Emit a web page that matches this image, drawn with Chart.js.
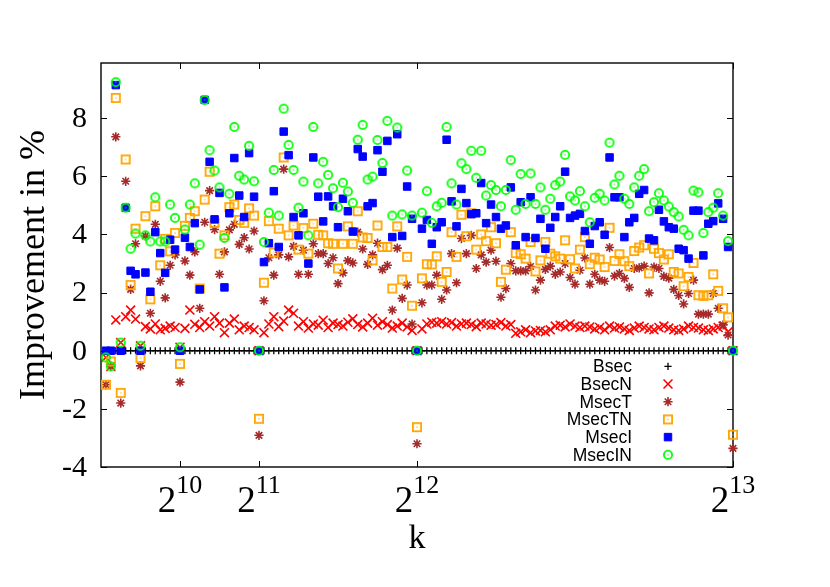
<!DOCTYPE html>
<html>
<head>
<meta charset="utf-8">
<script src="https://cdn.jsdelivr.net/npm/chart.js@4/dist/chart.umd.min.js"></script>
<style>
  html, body { margin: 0; padding: 0; background: #fff; }
  canvas { display: block; }
</style>
</head>
<body>
<canvas id="chart" width="830" height="587"></canvas>
<script>
// Data (START) --------------------------------------------------
// k values, multiples of 64
const kVals = [
    64, 128, 192, 256, 320, 384, 448, 512, 576, 640, 704, 768, 832, 896, 960, 1024,
    1088, 1152, 1216, 1280, 1344, 1408, 1472, 1536, 1600, 1664, 1728, 1792, 1856, 1920, 1984, 2048,
    2112, 2176, 2240, 2304, 2368, 2432, 2496, 2560, 2624, 2688, 2752, 2816, 2880, 2944, 3008, 3072,
    3136, 3200, 3264, 3328, 3392, 3456, 3520, 3584, 3648, 3712, 3776, 3840, 3904, 3968, 4032, 4096,
    4160, 4224, 4288, 4352, 4416, 4480, 4544, 4608, 4672, 4736, 4800, 4864, 4928, 4992, 5056, 5120,
    5184, 5248, 5312, 5376, 5440, 5504, 5568, 5632, 5696, 5760, 5824, 5888, 5952, 6016, 6080, 6144,
    6208, 6272, 6336, 6400, 6464, 6528, 6592, 6656, 6720, 6784, 6848, 6912, 6976, 7040, 7104, 7168,
    7232, 7296, 7360, 7424, 7488, 7552, 7616, 7680, 7744, 7808, 7872, 7936, 8000, 8064, 8128, 8192
];

// Improvement in % for each method
const bsec = [
    0, 0, 0, 0, 0, 0, 0, 0, 0, 0, 0, 0, 0, 0, 0, 0, 0, 0, 0, 0, 0, 0, 0, 0, 0, 0, 0, 0, 0, 0, 0, 0,
    0, 0, 0, 0, 0, 0, 0, 0, 0, 0, 0, 0, 0, 0, 0, 0, 0, 0, 0, 0, 0, 0, 0, 0, 0, 0, 0, 0, 0, 0, 0, 0,
    0, 0, 0, 0, 0, 0, 0, 0, 0, 0, 0, 0, 0, 0, 0, 0, 0, 0, 0, 0, 0, 0, 0, 0, 0, 0, 0, 0, 0, 0, 0, 0,
    0, 0, 0, 0, 0, 0, 0, 0, 0, 0, 0, 0, 0, 0, 0, 0, 0, 0, 0, 0, 0, 0, 0, 0, 0, 0, 0, 0, 0, 0, 0, 0
];
const bsecN = [
    -0.23, -0.54, 1.06, 0.28, 1.17, 1.4, 1.09, 0.17, 0.83, 0.75, 0.92, 0.72, 0.77, 0.85, 0.8, 0.12,
    0.77, 1.4, 0.91, 0.8, 1.0, 0.85, 1.17, 0.95, 0.62, 0.95, 1.09, 0.72, 0.85, 0.8, 0.72, 0,
    0.62, 0.92, 1.17, 0.83, 1.02, 1.4, 1.29, 0.85, 1.0, 0.78, 0.92, 0.88, 1.05, 0.8, 0.95, 0.9,
    0.85, 0.98, 1.1, 0.9, 0.82, 0.95, 1.12, 0.88, 1.0, 0.9, 0.78, 0.85, 0.95, 0.82, 0.7, 0,
    0.75, 0.92, 0.98, 0.95, 1.0, 0.92, 0.97, 0.85, 0.92, 0.95, 0.9, 0.83, 0.95, 0.92, 0.88, 0.9,
    0.97, 0.85, 0.9, 0.6, 0.65, 0.72, 0.62, 0.68, 0.7, 0.65, 0.72, 0.85, 0.88, 0.82, 0.92, 0.85,
    0.8, 0.85, 0.82, 0.75, 0.8, 0.72, 0.85, 0.78, 0.82, 0.75, 0.7, 0.78, 0.85, 0.8, 0.75, 0.72,
    0.8, 0.85, 0.78, 0.72, 0.7, 0.75, 0.85, 0.8, 0.78, 0.72, 0.7, 0.75, 0.8, 0.85, 0.65, 0
];
const msecT = [
    -1.17, -0.54, 7.36, -1.8, 5.83, 2.11, 3.68, -0.52, 3.95, 1.29, 4.35, 2.39, 1.82, 2.94, 3.3, -1.08,
    3.09, 2.6, 3.4, 1.46, 4.42, 5.51, 4.17, 2.63, 3.4, 4.16, 4.35, 3.66, 3.89, 3.5, 4.12, -2.91,
    1.72, 3.2, 2.6, 3.3, 6.25, 3.23, 3.59, 2.63, 3.46, 2.63, 3.68, 3.34, 3.34, 3.0, 3.2, 2.31,
    2.68, 3.1, 3.02, 4.08, 3.5, 2.97, 3.3, 3.7, 2.79, 2.94, 1.4, 3.53, 1.8, 2.26, 0.92, -3.2,
    1.65, 2.26, 2.26, 2.6, 1.77, 2.09, 3.34, 2.34, 3.86, 3.34, 3.97, 2.83, 3.3, 3.05, 3.46, 3.08,
    1.84, 2.14, 3.0, 2.75, 2.75, 2.75, 2.9, 2.09, 2.43, 2.8, 2.91, 2.63, 2.71, 3.0, 2.52, 2.29,
    2.77, 3.19, 2.29, 2.63, 2.43, 2.39, 3.55, 2.57, 2.66, 2.49, 2.18, 2.83, 2.85, 2.91, 1.99, 2.88,
    2.83, 2.56, 2.5, 2.11, 1.9, 1.61, 1.97, 2.43, 1.26, 1.26, 1.26, 1.97, 1.46, 0.89, 0.54, -3.36
];
const msecTN = [
    -1.17, -0.37, 8.7, -1.45, 6.58, 2.26, 4.2, -0.25, 4.63, 1.77, 4.97, 2.94, 3.85, 3.42, 4.05, -0.45,
    4.3, 4.57, 4.8, 2.14, 5.2, 6.16, 4.4, 3.34, 3.97, 4.94, 5.03, 4.5, 4.4, 4.9, 4.65, -2.34,
    2.34, 4.46, 3.38, 4.2, 6.65, 3.97, 4.31, 3.48, 4.22, 3.34, 4.37, 3.99, 3.97, 3.7, 3.68, 2.83,
    3.68, 4.28, 3.68, 4.8, 3.9, 3.88, 3.11, 4.31, 3.57, 3.57, 2.14, 4.28, 2.45, 3.23, 1.55, -2.63,
    2.49, 2.98, 2.97, 3.25, 2.37, 2.71, 4.08, 3.23, 4.68, 3.94, 4.73, 3.48, 4.0, 3.77, 4.25, 3.7,
    2.37, 2.79, 4.08, 3.36, 3.32, 3.17, 3.74, 2.73, 3.11, 3.74, 3.34, 3.25, 3.17, 3.8, 3.15, 2.83,
    3.48, 3.91, 2.98, 3.2, 3.14, 2.88, 4.23, 3.09, 3.32, 3.08, 2.91, 3.43, 3.55, 3.63, 2.66, 3.51,
    3.36, 3.14, 3.32, 2.71, 2.66, 2.22, 2.54, 3.02, 1.91, 1.89, 1.91, 2.63, 2.06, 1.46, 1.15, -2.89
];
const msecI = [
    0, 0, 9.14, 0, 4.92, 2.75, 2.63, 0, 2.69, 2.03, 4.08, 3.36, 2.68, 3.82, 3.48, 0,
    3.89, 3.57, 4.39, 2.11, 8.63, 6.5, 4.52, 5.43, 2.18, 4.73, 6.63, 5.34, 4.6, 6.8, 5.3, 0,
    3.05, 3.7, 5.49, 3.57, 7.54, 6.73, 4.6, 3.97, 4.73, 3.0, 6.65, 5.3, 4.45, 5.31, 4.97, 4.25,
    5.23, 4.8, 4.1, 6.94, 6.68, 4.97, 5.08, 6.9, 6.16, 7.22, 3.91, 7.45, 3.95, 5.65, 4.54, 0,
    4.2, 4.5, 3.68, 4.25, 4.42, 7.26, 5.14, 4.28, 5.57, 5.08, 4.7, 4.73, 5.77, 4.39, 5.03, 4.6,
    4.2, 4.31, 5.62, 3.63, 5.11, 3.91, 5.28, 3.88, 4.54, 3.51, 4.23, 4.6, 4.97, 6.16, 4.57, 4.65,
    4.71, 4.12, 3.68, 4.29, 4.42, 3.99, 6.65, 5.28, 5.28, 3.91, 4.42, 4.57, 5.4, 5.53, 3.86, 3.8,
    4.85, 4.45, 4.25, 4.2, 3.51, 3.46, 3.17, 4.82, 4.82, 3.28, 4.37, 4.46, 5.07, 4.54, 3.57, 0
];
const msecIN = [
    -0.23, -0.54, 9.24, 0.28, 4.92, 3.51, 4.03, 0.17, 3.97, 3.76, 5.28, 3.76, 3.76, 5.03, 4.57, 0.12,
    4.17, 5.03, 5.76, 3.65, 8.63, 6.9, 6.2, 5.62, 3.88, 5.4, 7.7, 6.02, 5.89, 7.05, 5.83, 0,
    3.74, 4.75, 6.22, 4.65, 8.33, 7.08, 6.22, 4.92, 5.82, 3.97, 7.7, 5.76, 6.5, 6.05, 5.59, 4.94,
    5.78, 5.48, 5.09, 7.26, 7.77, 5.89, 5.99, 7.25, 6.46, 7.91, 4.65, 7.68, 4.69, 6.2, 4.65, 0,
    4.75, 5.49, 4.4, 4.97, 5.09, 7.7, 5.76, 5.03, 6.45, 6.25, 6.88, 5.95, 6.88, 5.34, 5.7, 5.53,
    4.97, 5.53, 6.56, 4.85, 6.08, 5.05, 6.1, 5.05, 5.62, 4.85, 5.23, 5.7, 5.82, 6.74, 5.31, 5.17,
    5.49, 4.97, 4.42, 5.26, 5.4, 5.17, 7.16, 5.72, 6.02, 5.23, 5.05, 5.62, 6.02, 6.25, 4.8, 5.11,
    5.42, 5.17, 4.96, 4.77, 4.62, 4.16, 3.97, 5.51, 5.45, 4.05, 4.77, 4.92, 5.42, 4.65, 3.77, 0
];

// Axis ticks
const xTickExps = [10, 11, 12, 13];
const yTicks = [-4, -2, 0, 2, 4, 6, 8];
// Data (END) ----------------------------------------------------


// Open square / circle with a dot in the middle, like gnuplot draws them
function makeMarker(kind, color) {
    let c = document.createElement("canvas");
    c.width = 14;
    c.height = 14;
    let ctx = c.getContext("2d");
    ctx.strokeStyle = color;
    ctx.fillStyle = color;
    ctx.lineWidth = 1.8;
    if (kind === "square") {
        ctx.strokeRect(2.9, 2.9, 8.2, 8.2);
    } else {
        ctx.beginPath();
        ctx.arc(7, 7, 4.1, 0, 2 * Math.PI);
        ctx.stroke();
    }
    ctx.fillRect(6.4, 6.4, 1.2, 1.2);
    return c;
}

let squareTN = makeMarker("square", "#ffa500");
let circleIN = makeMarker("circle", "#00ff00");

// Series definitions (drawn in this order, last one on top)
let series = [
    {label: "Bsec", values: bsec, color: "#000000", style: "cross", radius: 3.6, width: 1.3},
    {label: "BsecN", values: bsecN, color: "#ff0000", style: "crossRot", radius: 6.3, width: 1.6},
    {label: "MsecT", values: msecT, color: "#a52a2a", style: "star", radius: 4.6, width: 1.6},
    {label: "MsecTN", values: msecTN, color: "#ffa500", style: squareTN, radius: 5, width: 1},
    {label: "MsecI", values: msecI, color: "#0000ff", style: "rect", radius: 5.3, width: 1},
    {label: "MsecIN", values: msecIN, color: "#00ff00", style: circleIN, radius: 5, width: 1}
];

let datasets = series.map(function (s, n) {
    return {
        label: s.label,
        data: kVals.map(function (k, i) { return {x: k, y: s.values[i]}; }),
        pointStyle: s.style,
        pointRadius: s.radius,
        pointBorderWidth: s.width,
        pointBackgroundColor: s.color,
        pointBorderColor: s.color,
        showLine: false,
        clip: false,
        order: series.length - n
    };
});

// Plot frame, inward ticks, tick labels, titles and key
const frameAndLabels = {
    id: "frameAndLabels",
    beforeDatasetsDraw(chart) {
        let ctx = chart.ctx;
        let a = chart.chartArea;
        let xs = chart.scales.x;
        let ys = chart.scales.y;
        ctx.save();
        ctx.strokeStyle = "#000";
        ctx.lineWidth = 1.4;
        ctx.strokeRect(a.left, a.top, a.right - a.left, a.bottom - a.top);
        ctx.lineWidth = 1;
        ctx.beginPath();
        xTickExps.forEach(function (e) {
            let px = Math.round(xs.getPixelForValue(Math.pow(2, e))) + 0.5;
            ctx.moveTo(px, a.bottom); ctx.lineTo(px, a.bottom - 6);
            ctx.moveTo(px, a.top); ctx.lineTo(px, a.top + 6);
        });
        yTicks.forEach(function (v) {
            let py = Math.round(ys.getPixelForValue(v)) + 0.5;
            ctx.moveTo(a.left, py); ctx.lineTo(a.left + 6, py);
            ctx.moveTo(a.right, py); ctx.lineTo(a.right - 6, py);
        });
        ctx.stroke();
        ctx.restore();
    },
    afterDraw(chart) {
        let ctx = chart.ctx;
        let a = chart.chartArea;
        let xs = chart.scales.x;
        let ys = chart.scales.y;
        ctx.save();
        ctx.fillStyle = "#000";

        // Y tick labels
        ctx.font = "30px 'Liberation Serif', serif";
        ctx.textAlign = "right";
        ctx.textBaseline = "middle";
        yTicks.forEach(function (v) {
            ctx.fillText(String(v), a.left - 14, ys.getPixelForValue(v) + 1);
        });

        // X tick labels as 2^n
        ctx.textAlign = "left";
        ctx.textBaseline = "alphabetic";
        xTickExps.forEach(function (e) {
            let px = xs.getPixelForValue(Math.pow(2, e));
            ctx.font = "37px 'Liberation Serif', serif";
            let w1 = ctx.measureText("2").width;
            ctx.font = "26px 'Liberation Serif', serif";
            let w2 = ctx.measureText(String(e)).width;
            let x0 = px - (w1 + w2) / 2;
            ctx.font = "37px 'Liberation Serif', serif";
            ctx.fillText("2", x0, 512);
            ctx.font = "26px 'Liberation Serif', serif";
            ctx.fillText(String(e), x0 + w1, 493);
        });

        // Axis titles
        ctx.font = "34px 'Liberation Serif', serif";
        ctx.textAlign = "center";
        ctx.fillText("k", (a.left + a.right) / 2, 548);
        ctx.font = "36px 'Liberation Serif', serif";
        ctx.translate(44, (a.top + a.bottom) / 2);
        ctx.rotate(-Math.PI / 2);
        ctx.fillText("Improvement in %", 0, 0);
        ctx.restore();

        // Key: text right aligned, marker on the right
        ctx.save();
        ctx.font = "17.5px 'Liberation Sans', sans-serif";
        ctx.textAlign = "right";
        ctx.textBaseline = "middle";
        series.forEach(function (s, n) {
            let y = 366.3 + n * 17.7;
            let mx = 668;
            ctx.fillStyle = "#000";
            ctx.fillText(s.label, 632, y + 1);
            ctx.strokeStyle = s.color;
            ctx.fillStyle = s.color;
            ctx.lineWidth = s.width;
            if (typeof s.style !== "string") {
                ctx.drawImage(s.style, mx - 7, y - 7);
                return;
            }
            let r = s.radius;
            ctx.beginPath();
            if (s.style === "cross" || s.style === "star") {
                ctx.moveTo(mx - r, y); ctx.lineTo(mx + r, y);
                ctx.moveTo(mx, y - r); ctx.lineTo(mx, y + r);
            }
            if (s.style === "crossRot" || s.style === "star") {
                let d = r * Math.SQRT1_2;
                ctx.moveTo(mx - d, y - d); ctx.lineTo(mx + d, y + d);
                ctx.moveTo(mx - d, y + d); ctx.lineTo(mx + d, y - d);
            }
            if (s.style === "rect") {
                let d = r * Math.SQRT1_2;
                ctx.rect(mx - d, y - d, 2 * d, 2 * d);
                ctx.fill();
            }
            ctx.stroke();
        });
        ctx.restore();
    }
};

let chart = new Chart(document.getElementById("chart").getContext("2d"), {
    type: "scatter",
    data: {datasets: datasets},
    options: {
        responsive: false,
        animation: false,
        devicePixelRatio: 1,
        layout: {padding: {left: 101, right: 97, top: 63, bottom: 120}},
        plugins: {legend: {display: false}, tooltip: {enabled: false}},
        scales: {
            x: {type: "linear", min: 0, max: 8192, display: false},
            y: {type: "linear", min: -4, max: 9.9, display: false}
        }
    },
    plugins: [frameAndLabels]
});
</script>
</body>
</html>
